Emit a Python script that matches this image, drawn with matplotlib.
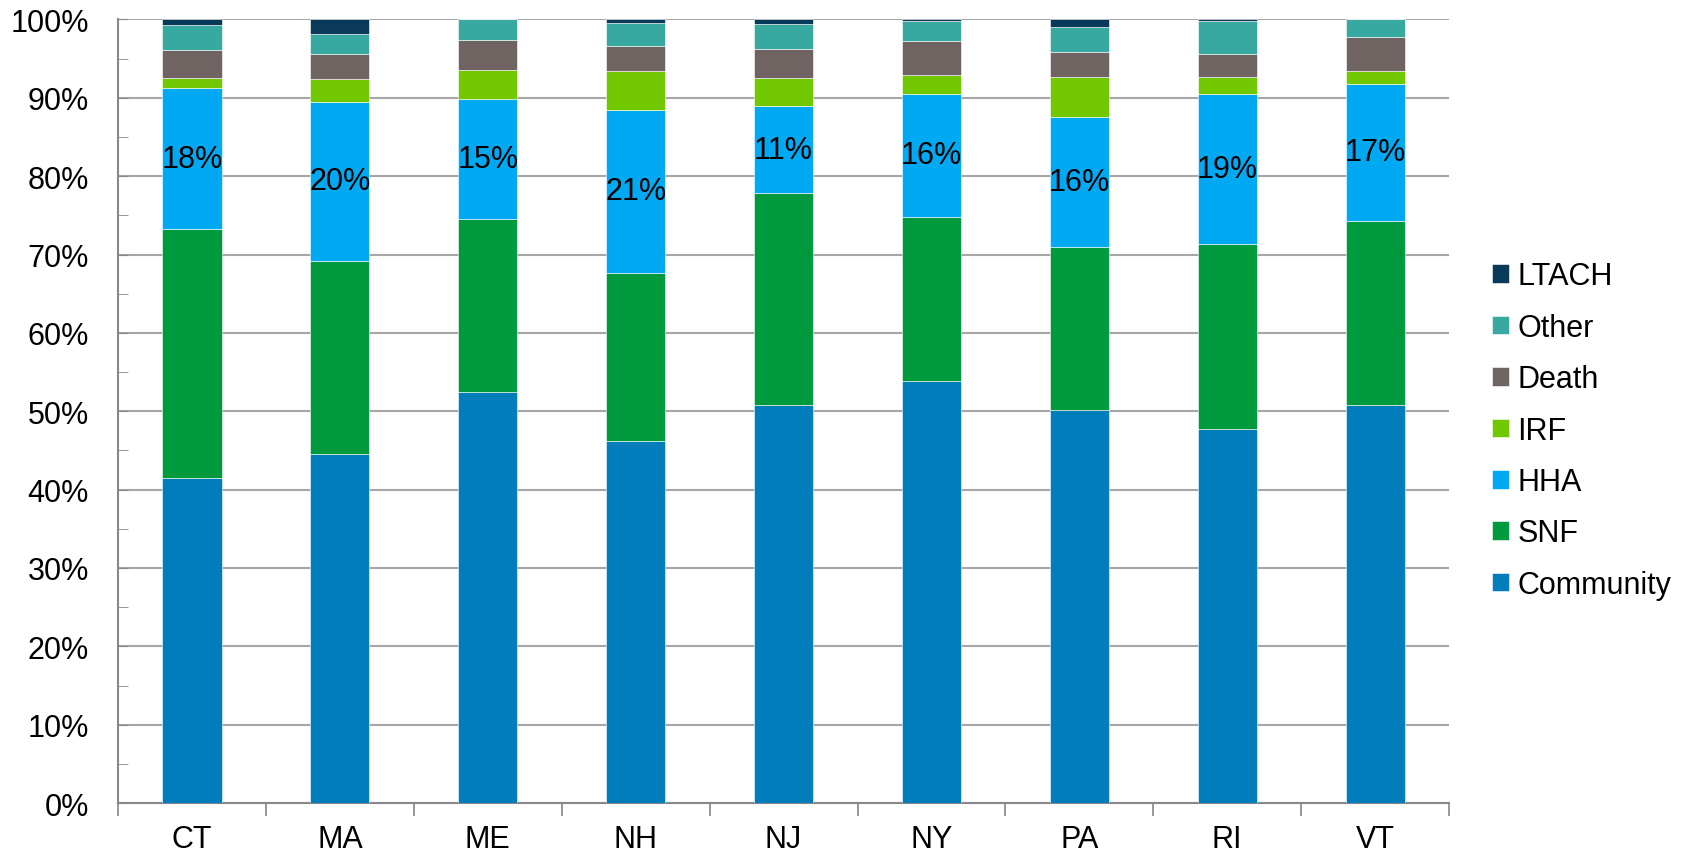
import numpy as np
import matplotlib
matplotlib.use("Agg")
from matplotlib import pyplot as plt
from matplotlib.ticker import MultipleLocator, FuncFormatter

plt.rcParams['font.family'] = ['Liberation Sans', 'DejaVu Sans']

states = ['CT', 'MA', 'ME', 'NH', 'NJ', 'NY', 'PA', 'RI', 'VT']

# shares in percent, bottom to top
community = [41.5, 44.6, 52.4, 46.2, 50.8, 53.9, 50.1, 47.7, 50.8]
snf = [31.7, 24.6, 22.1, 21.5, 27.1, 20.9, 20.9, 23.7, 23.5]
hha = [18.1, 20.3, 15.35, 20.7, 11.0, 15.7, 16.5, 19.05, 17.5]
irf = [1.2, 2.9, 3.75, 5.0, 3.6, 2.45, 5.2, 2.25, 1.6]
death = [3.6, 3.2, 3.8, 3.25, 3.7, 4.3, 3.1, 2.9, 4.4]
other = [3.2, 2.6, 2.6, 2.95, 3.2, 2.55, 3.2, 4.2, 2.2]
ltach = [0.7, 1.8, 0.0, 0.4, 0.6, 0.2, 1.0, 0.2, 0.0]

hha_labels = ['18%', '20%', '15%', '21%', '11%', '16%', '16%', '19%', '17%']

series = [
    ('Community', community, '#007DBA'),
    ('SNF', snf, '#009A3E'),
    ('HHA', hha, '#00A9F2'),
    ('IRF', irf, '#72C800'),
    ('Death', death, '#706463'),
    ('Other', other, '#38A9A0'),
    ('LTACH', ltach, '#0A3A5A'),
]

fs = 22

fig = plt.figure(figsize=(16.94, 8.53), dpi=100)
ax = fig.add_axes([0.0697, 0.0574, 0.7857, 0.9186])

x = np.arange(len(states))
bottom = np.zeros(len(states))
for name, vals, col in series:
    vals = np.array(vals)
    ax.bar(x, vals, 0.4, bottom=bottom, color=col, label=name,
           edgecolor='white', linewidth=0.4, zorder=3)
    if name == 'HHA':
        for xi, b, v, lab in zip(x, bottom, vals, hha_labels):
            ax.text(xi, b + v / 2, lab, ha='center', va='center',
                    fontsize=fs, color='black', zorder=4)
    bottom += vals

ax.set_xlim(-0.5, len(states) - 0.5)
ax.set_ylim(0, 100)

ax.yaxis.set_major_locator(MultipleLocator(10))
ax.yaxis.set_minor_locator(MultipleLocator(5))
ax.yaxis.set_major_formatter(FuncFormatter(lambda v, p: f'{v:.0f}%'))
ax.tick_params(axis='y', which='both', direction='in', length=7,
               color='#888888', labelsize=fs, pad=21)
ax.grid(axis='y', which='major', color='#A6A6A6', linewidth=1.5, zorder=0)

ax.set_xticks(x)
ax.set_xticklabels(states)
ax.set_xticks(np.arange(-0.5, len(states)), minor=True)
ax.tick_params(axis='x', which='major', length=0, labelsize=fs, pad=15)
ax.tick_params(axis='x', which='minor', direction='out', length=9,
               color='#888888', width=1.2)

for s in ['top', 'right']:
    ax.spines[s].set_visible(False)
for s in ['left', 'bottom']:
    ax.spines[s].set_color('#888888')
    ax.spines[s].set_linewidth(1.5)
ax.set_axisbelow(True)

handles, labels = ax.get_legend_handles_labels()
fig.legend(handles[::-1], labels[::-1], loc='center left',
           bbox_to_anchor=(0.8715, 0.494), frameon=False, fontsize=fs,
           handlelength=0.56, handleheight=0.56, handletextpad=0.28,
           labelspacing=0.70, borderpad=0)

fig.savefig('out.png', dpi=100)
